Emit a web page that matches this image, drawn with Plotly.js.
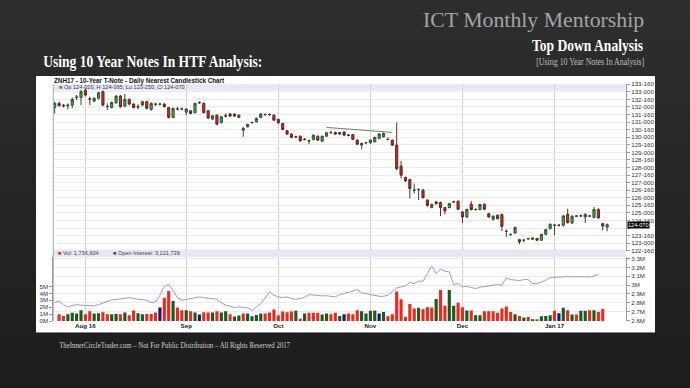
<!DOCTYPE html>
<html><head><meta charset="utf-8">
<script src="https://cdn.plot.ly/plotly-3.0.1.min.js"></script>
<style>
html,body{margin:0;padding:0;width:690px;height:388px;overflow:hidden;background:linear-gradient(180deg,#2e2e2e 0%,#262626 45%,#1d1d1d 100%);}
#chart{width:690px;height:388px;}
</style></head><body><div id="chart"></div>
<script>
// ---- Data ----
const dates = [
"2016-07-21","2016-07-22","2016-07-25","2016-07-26","2016-07-27","2016-07-28","2016-07-29",
"2016-08-01","2016-08-02","2016-08-03","2016-08-04","2016-08-05","2016-08-08","2016-08-09","2016-08-10","2016-08-11","2016-08-12","2016-08-15","2016-08-16","2016-08-17","2016-08-18","2016-08-19","2016-08-22","2016-08-23","2016-08-24","2016-08-25","2016-08-26","2016-08-29","2016-08-30","2016-08-31",
"2016-09-01","2016-09-02","2016-09-06","2016-09-07","2016-09-08","2016-09-09","2016-09-12","2016-09-13","2016-09-14","2016-09-15","2016-09-16","2016-09-19","2016-09-20","2016-09-21","2016-09-22","2016-09-23","2016-09-26","2016-09-27","2016-09-28","2016-09-29","2016-09-30",
"2016-10-03","2016-10-04","2016-10-05","2016-10-06","2016-10-07","2016-10-10","2016-10-11","2016-10-12","2016-10-13","2016-10-14","2016-10-17","2016-10-18","2016-10-19","2016-10-20","2016-10-21","2016-10-24","2016-10-25","2016-10-26","2016-10-27","2016-10-28","2016-10-31",
"2016-11-01","2016-11-02","2016-11-03","2016-11-04","2016-11-07","2016-11-08","2016-11-09","2016-11-10","2016-11-11","2016-11-14","2016-11-15","2016-11-16","2016-11-17","2016-11-18","2016-11-21","2016-11-22","2016-11-23","2016-11-25","2016-11-28","2016-11-29","2016-11-30",
"2016-12-01","2016-12-02","2016-12-05","2016-12-06","2016-12-07","2016-12-08","2016-12-09","2016-12-12","2016-12-13","2016-12-14","2016-12-15","2016-12-16","2016-12-19","2016-12-20","2016-12-21","2016-12-22","2016-12-23","2016-12-27","2016-12-28","2016-12-29","2016-12-30",
"2017-01-03","2017-01-04","2017-01-05","2017-01-06","2017-01-09","2017-01-10","2017-01-11","2017-01-12","2017-01-13","2017-01-17","2017-01-18","2017-01-19","2017-01-20"];

const openP = [131.97,132.24,132.12,132.08,132.13,132.63,132.63,133.10,132.54,132.39,
132.57,133.01,132.02,131.97,132.28,132.72,132.06,132.50,132.19,132.02,
132.13,132.35,131.84,132.20,132.18,132.19,131.97,131.31,131.87,131.86,
131.66,131.75,131.62,132.27,132.24,131.75,131.20,131.46,130.98,131.42,
131.53,131.53,131.31,130.47,130.69,130.96,131.02,131.31,131.49,131.50,
131.46,131.18,130.91,130.43,130.21,130.03,130.07,129.86,129.77,129.85,
130.07,129.74,130.07,130.31,130.31,130.21,130.34,130.15,130.18,129.81,
129.48,129.63,129.63,129.70,129.92,130.03,129.85,129.81,129.48,128.09,
127.34,127.20,126.50,126.54,126.50,125.84,125.35,125.72,125.68,125.35,
125.35,125.72,125.77,125.06,124.73,125.57,125.22,125.22,125.57,124.95,
124.58,124.84,124.89,123.78,123.56,123.67,123.23,123.19,123.30,123.25,
123.30,123.19,123.58,123.96,124.18,124.19,124.18,124.91,124.33,124.78,
124.80,124.73,124.80,124.69,125.22,124.29,124.06];
const highP = [132.35,132.35,132.19,132.24,132.63,132.79,133.12,133.20,132.68,132.65,
133.00,133.08,132.24,132.36,132.78,132.80,132.86,132.56,132.26,132.19,
132.42,132.42,132.30,132.28,132.28,132.25,132.00,131.95,132.02,131.97,
131.92,131.80,132.28,132.39,132.30,131.80,131.47,131.50,131.40,131.57,
131.60,131.58,131.52,130.69,130.90,131.03,131.30,131.60,131.58,131.58,
131.52,131.22,130.95,130.48,130.25,130.10,130.12,129.95,129.84,130.18,
130.12,130.10,130.34,130.43,130.38,130.36,130.40,130.22,130.22,129.86,
129.64,129.70,129.86,130.04,130.26,130.32,129.99,129.85,130.98,128.44,
127.40,127.26,126.94,126.62,126.60,125.90,125.62,125.80,125.75,125.40,
125.66,125.80,125.82,125.10,125.28,125.79,125.30,125.60,125.62,125.00,
124.84,124.90,124.95,123.90,123.65,124.10,123.28,123.25,123.35,123.38,
123.35,123.62,123.95,124.30,124.25,124.25,124.86,125.28,124.84,124.85,
124.90,124.96,124.86,125.39,125.30,124.34,124.30];
const lowP = [131.57,132.02,131.97,131.84,131.91,132.46,132.13,132.70,132.13,132.33,
132.50,132.06,131.80,131.90,132.20,131.95,131.98,132.12,131.90,131.84,
132.06,131.84,131.75,132.08,132.10,131.97,131.25,131.25,131.78,131.78,
131.46,131.52,131.58,132.20,131.58,131.20,131.15,130.78,130.90,131.30,
131.35,131.35,131.26,130.03,130.64,130.90,130.97,131.26,131.42,131.42,
131.08,130.90,130.46,130.16,129.94,129.95,129.70,129.78,129.54,129.80,
129.76,129.70,130.03,130.25,130.16,130.16,130.08,130.06,129.82,129.48,
129.19,129.55,129.58,129.65,129.88,129.98,129.80,129.42,127.82,127.27,
127.05,125.95,126.28,125.84,125.95,125.40,125.30,125.55,124.78,124.90,
125.30,125.66,125.18,124.33,124.68,125.16,125.15,125.17,125.18,124.68,
124.50,124.57,123.80,123.41,123.48,123.62,122.92,123.05,123.24,123.20,
123.15,123.15,123.52,123.90,123.52,124.10,124.10,124.30,124.28,124.72,
124.72,124.33,124.74,124.64,124.62,123.85,123.78];
const closeP = [132.24,132.10,132.08,132.12,132.50,132.66,133.01,132.79,132.52,132.57,
132.94,132.13,132.04,132.30,132.72,132.02,132.50,132.19,131.97,132.00,
132.35,131.91,132.24,132.18,132.20,132.02,131.31,131.91,131.86,131.88,
131.86,131.57,132.24,132.29,131.62,131.27,131.42,130.87,131.35,131.40,
131.40,131.40,131.46,130.58,130.85,130.98,131.24,131.53,131.50,131.49,
131.13,130.96,130.52,130.21,129.99,130.02,129.76,129.85,129.76,130.14,
129.81,130.07,130.29,130.30,130.21,130.31,130.14,130.13,129.87,129.54,
129.59,129.64,129.81,129.99,130.21,130.25,129.86,129.48,127.93,127.49,
127.12,126.61,126.52,126.55,126.01,125.50,125.55,125.61,125.35,125.13,
125.61,125.73,125.24,124.73,125.22,125.22,125.23,125.55,125.24,124.73,
124.78,124.62,124.11,123.79,123.57,124.03,123.08,123.20,123.29,123.34,
123.19,123.58,123.89,124.25,124.19,124.18,124.80,124.36,124.78,124.79,
124.81,124.91,124.79,125.22,124.67,124.13,124.22];

// volume in millions of contracts (no bar shown for first and last day)
const volumeM = [null,0.98,0.74,0.98,1.18,1.08,1.57,0.98,1.42,1.08,
1.13,1.27,0.98,0.98,1.03,0.98,1.23,0.83,1.52,1.13,
0.98,1.03,1.03,1.23,1.96,3.38,4.36,2.89,1.96,1.57,
1.57,1.42,1.23,0.93,1.27,1.23,1.23,1.42,1.23,1.42,
0.98,0.64,0.78,1.08,1.08,0.69,0.88,1.08,1.08,1.23,
1.67,0.83,1.37,1.27,1.37,1.47,0.34,1.08,1.18,1.18,
1.18,0.93,1.08,0.98,1.18,0.74,0.98,1.08,0.98,1.57,
1.42,1.08,1.47,1.52,1.08,1.32,0.69,0.98,4.26,3.14,
0.59,2.45,1.81,1.91,1.72,2.01,1.96,3.19,4.51,2.21,
4.51,2.21,2.65,2.01,1.52,1.52,0.83,0.83,1.42,1.42,
1.42,1.18,1.81,2.11,1.32,0.98,0.74,0.49,0.59,0.25,
0.25,0.69,0.74,0.83,1.47,1.13,1.91,1.57,0.93,0.93,
1.47,1.47,1.57,1.57,1.32,1.74,null];
// bar colour class: r = down, g = up, n = unchanged
const volumeDir = ("-rrggggrrg"+"grrggrgrrg"+"grrrnrrgrr"+"grgnrrgrgg"+"rggrggggrr"+
"rrrrrgrgrr"+"rggrrgnrrr"+"ggggngrrrr"+"rrrgrrrgrr"+"ggrrgrggrr"+"rrrrrgrgrg"+"rgggrngrgr"+"ggrgrr-").split("");

// open interest in millions
const openInterestM = [2.803,2.818,2.780,2.754,2.769,2.780,2.773,2.773,2.765,2.765,
2.780,2.799,2.810,2.833,2.837,2.844,2.848,2.859,2.848,2.840,
2.833,2.829,2.803,2.810,2.886,2.987,3.006,2.942,2.855,2.829,
2.837,2.848,2.859,2.867,2.859,2.855,2.848,2.840,2.803,2.773,
2.761,2.746,2.754,2.750,2.743,2.713,2.750,2.792,2.855,2.923,
2.886,2.867,2.859,2.867,2.848,2.840,2.848,2.863,2.893,2.886,
2.878,2.878,2.880,2.870,2.867,2.893,2.904,2.923,2.931,2.950,
2.912,2.904,2.893,2.886,2.874,2.874,2.886,2.923,2.968,2.980,
2.991,3.029,3.017,3.044,3.044,3.130,3.217,3.130,3.179,3.156,
3.149,3.006,3.017,2.980,2.987,2.972,2.961,2.976,2.983,2.991,
2.991,3.006,2.998,3.081,3.062,3.055,3.051,3.062,3.062,3.017,
3.017,3.036,3.055,3.085,3.085,3.085,3.092,3.100,3.092,3.096,
3.092,3.092,3.092,3.100,3.119,null,null];

// hand-drawn trend line (two end points)
const trendDates = ["2016-10-18","2016-11-08"];
const trendPrices = [130.65,130.32];

const monthTickDates = ["2016-08-01","2016-09-01","2016-10-03","2016-11-01","2016-12-01","2017-01-03"];
const monthTickText = ["Aug 16","Sep","Oct","Nov","Dec","Jan 17"];
// "124-000" sits under the last-price marker in the reference, so its label is hidden
const priceTickText = ["122-160","123-000","123-160","","124-160","125-000","125-160","126-000","126-160","127-000","127-160","128-000","128-160","129-000","129-160","130-000","130-160","131-000","131-160","132-000","132-160","133-000","133-160"];
const priceTickStart = 122.5, priceTickStep = 0.5;
const volTickVals = [0,1,2,3,4,5];
const volTickText = ["0M","1M","2M","3M","4M","5M"];
const oiTickVals = [2.6,2.7,2.8,2.9,3.0,3.1,3.2,3.3];
const oiTickText = ["2.6M","2.7M","2.8M","2.9M","3M","3.1M","3.2M","3.3M"];
const lastPriceText = "124-070";
const lastPrice = 124 + 7/32;

// ---- helpers ----
const W = 690, H = 388;
const px = v => v / W;
const py = v => 1 - v / H;
const priceTickVals = priceTickText.map((t, k) => priceTickStart + k * priceTickStep);
const dirColor = {r:"#ea2a1c", g:"#1d5a1d", n:"#1a1a6a", "-":"#ffffff"};

const traces = [
  {type:"candlestick", x:dates, open:openP, high:highP, low:lowP, close:closeP,
   xaxis:"x", yaxis:"y", hoverinfo:"skip",
   increasing:{fillcolor:"#3cb43c", line:{color:"#2f4f2f", width:1}},
   decreasing:{fillcolor:"#d9281c", line:{color:"#5a2a22", width:1}}},
  {type:"scatter", mode:"lines", x:trendDates, y:trendPrices, xaxis:"x", yaxis:"y",
   line:{color:"#7a7a7a", width:1}, hoverinfo:"skip"},
  {type:"bar", x:dates, y:volumeM, xaxis:"x", yaxis:"y2", width:0.72,
   marker:{color:volumeDir.map(d => dirColor[d]), line:{width:0}}, hoverinfo:"skip"},
  {type:"scatter", mode:"lines", x:dates, y:openInterestM, xaxis:"x", yaxis:"y3",
   line:{color:"#a890d8", width:1}, hoverinfo:"skip"}
];

const tickFont = {family:"Liberation Sans, Arial", size:6.2, color:"#333"};
const serif = "Liberation Serif, Times New Roman, serif";

const layout = {
  width:W, height:H, margin:{l:0,r:0,t:0,b:0},
  paper_bgcolor:"rgba(0,0,0,0)", plot_bgcolor:"rgba(0,0,0,0)",
  showlegend:false, hovermode:false, bargap:0.28,
  xaxis:{type:"category", domain:[px(53.3), px(626)], range:[-0.32,130.3], anchor:"y2",
    tickvals:monthTickDates, ticktext:monthTickText, tickangle:0,
    tickfont:{family:"Liberation Sans, Arial", size:6.2, color:"#222", weight:"bold"},
    showgrid:true, gridcolor:"#d2d2d2", gridwidth:1, ticks:"", showline:false,
    zeroline:false, rangeslider:{visible:false}, fixedrange:true},
  yaxis:{domain:[py(250.7), py(84.3)], range:[122.5,133.5], side:"right", anchor:"x",
    tickvals:priceTickVals, ticktext:priceTickText, tickfont:tickFont,
    showgrid:true, gridcolor:"#e9e9ee", showline:true, linecolor:"#9a9a9a",
    ticks:"outside", ticklen:3, tickcolor:"#9a9a9a", zeroline:false, fixedrange:true},
  yaxis2:{domain:[py(321), py(257)], range:[0,9.28], side:"left", anchor:"x",
    tickvals:volTickVals, ticktext:volTickText, tickfont:tickFont,
    showgrid:false, showline:true, linecolor:"#9a9a9a", ticks:"outside", ticklen:3,
    tickcolor:"#9a9a9a", zeroline:false, fixedrange:true},
  yaxis3:{overlaying:"y2", side:"right", anchor:"x", range:[2.595,3.317],
    tickvals:oiTickVals, ticktext:oiTickText, tickfont:tickFont,
    showgrid:true, gridcolor:"#e9e9ee", showline:true, linecolor:"#9a9a9a",
    ticks:"outside", ticklen:3, tickcolor:"#9a9a9a", zeroline:false, fixedrange:true},
  shapes:[
    {type:"rect", xref:"paper", yref:"paper", x0:px(36), x1:px(655), y0:py(333), y1:py(76),
     fillcolor:"#ffffff", line:{width:0}, layer:"below"},
    {type:"rect", xref:"paper", yref:"paper", x0:px(53.3), x1:px(626), y0:py(90.5), y1:py(84.3),
     fillcolor:"#e6e6f4", line:{width:0}, layer:"below"},
    {type:"rect", xref:"paper", yref:"paper", x0:px(53.3), x1:px(626), y0:py(257), y1:py(249.5),
     fillcolor:"#e6e6f4", line:{width:0}, layer:"below"},
    {type:"line", xref:"paper", yref:"paper", x0:px(53.3), x1:px(53.3), y0:py(321), y1:py(84.3),
     line:{color:"#a8a8a8", width:1}},
    {type:"line", xref:"paper", yref:"paper", x0:px(36), x1:px(655), y0:py(333), y1:py(333),
     line:{color:"#111", width:1}}
  ],
  annotations:[
    {xref:"paper", yref:"paper", x:px(646), y:py(20), xanchor:"right", yanchor:"middle",
     text:"ICT Monthly Mentorship", showarrow:false, font:{family:serif, size:21.8, color:"#a4a4a4"}},
    {xref:"paper", yref:"paper", x:px(646), y:py(45), xanchor:"right", yanchor:"middle",
     text:"<b>Top Down Analysis</b>", showarrow:false, font:{family:serif, size:17, color:"#ffffff"}},
    {xref:"paper", yref:"paper", x:px(646), y:py(62.5), xanchor:"right", yanchor:"middle",
     text:"[Using 10 Year Notes In Analysis]", showarrow:false, font:{family:serif, size:9.5, color:"#bdbdbd"}},
    {xref:"paper", yref:"paper", x:px(41), y:py(62), xanchor:"left", yanchor:"middle",
     text:"<b>Using 10 Year Notes In HTF Analysis:</b>", showarrow:false, font:{family:serif, size:17, color:"#ffffff"}},
    {xref:"paper", yref:"paper", x:px(52), y:py(80.5), xanchor:"left", yanchor:"middle",
     text:"<b>ZNH17 - 10-Year T-Note - Daily Nearest Candlestick Chart</b>", showarrow:false,
     font:{family:"Liberation Sans, Arial", size:6.3, color:"#111"}},
    {xref:"paper", yref:"paper", x:px(57), y:py(87.5), xanchor:"left", yanchor:"middle",
     text:"<span style='color:#2e9e2e'>■</span> Op 124-020, H 124-095, Lo 123-250, Cl 124-070", showarrow:false,
     font:{family:"Liberation Sans, Arial", size:5.6, color:"#444"}},
    {xref:"paper", yref:"paper", x:px(56), y:py(253), xanchor:"left", yanchor:"middle",
     text:"<span style='color:#d42a1e'>■</span> Vol: 1,736,604", showarrow:false,
     font:{family:"Liberation Sans, Arial", size:5.6, color:"#444"}},
    {xref:"paper", yref:"paper", x:px(111), y:py(253), xanchor:"left", yanchor:"middle",
     text:"<span style='color:#5b3c9a'>■</span> Open Interest: 3,121,739", showarrow:false,
     font:{family:"Liberation Sans, Arial", size:5.6, color:"#444"}},
    {xref:"paper", yref:"y", x:px(627), y:lastPrice, xanchor:"left", yanchor:"middle",
     text:lastPriceText, showarrow:false, bgcolor:"#000", borderpad:0,
     font:{family:"Liberation Sans, Arial", size:5.6, color:"#fff"}},
    {xref:"paper", yref:"paper", x:px(57), y:py(345), xanchor:"left", yanchor:"middle",
     text:"TheInnerCircleTrader.com – Not For Public Distribution – All Rights Reserved 2017", showarrow:false,
     font:{family:serif, size:8.5, color:"#d0d0d0"}}
  ]
};

// horizontal condensing of the slide's narrow serif headings (annotation index -> [scale, origin])
const condense = {1:[0.8,"right"], 2:[0.83,"right"], 3:[0.8,"left"], 9:[0.8,"left"]};

Plotly.newPlot("chart", traces, layout, {staticPlot:true, displayModeBar:false}).then(gd => {
  gd.querySelectorAll("g.annotation").forEach(g => {
    const k = g.getAttribute("data-index");
    if (condense[k]) {
      const t = g.querySelector("text.annotation-text");
      if (t) {
        t.style.transformBox = "fill-box";
        t.style.transformOrigin = condense[k][1] + " center";
        t.style.transform = "scaleX(" + condense[k][0] + ")";
      }
    }
  });
});
</script></body></html>
